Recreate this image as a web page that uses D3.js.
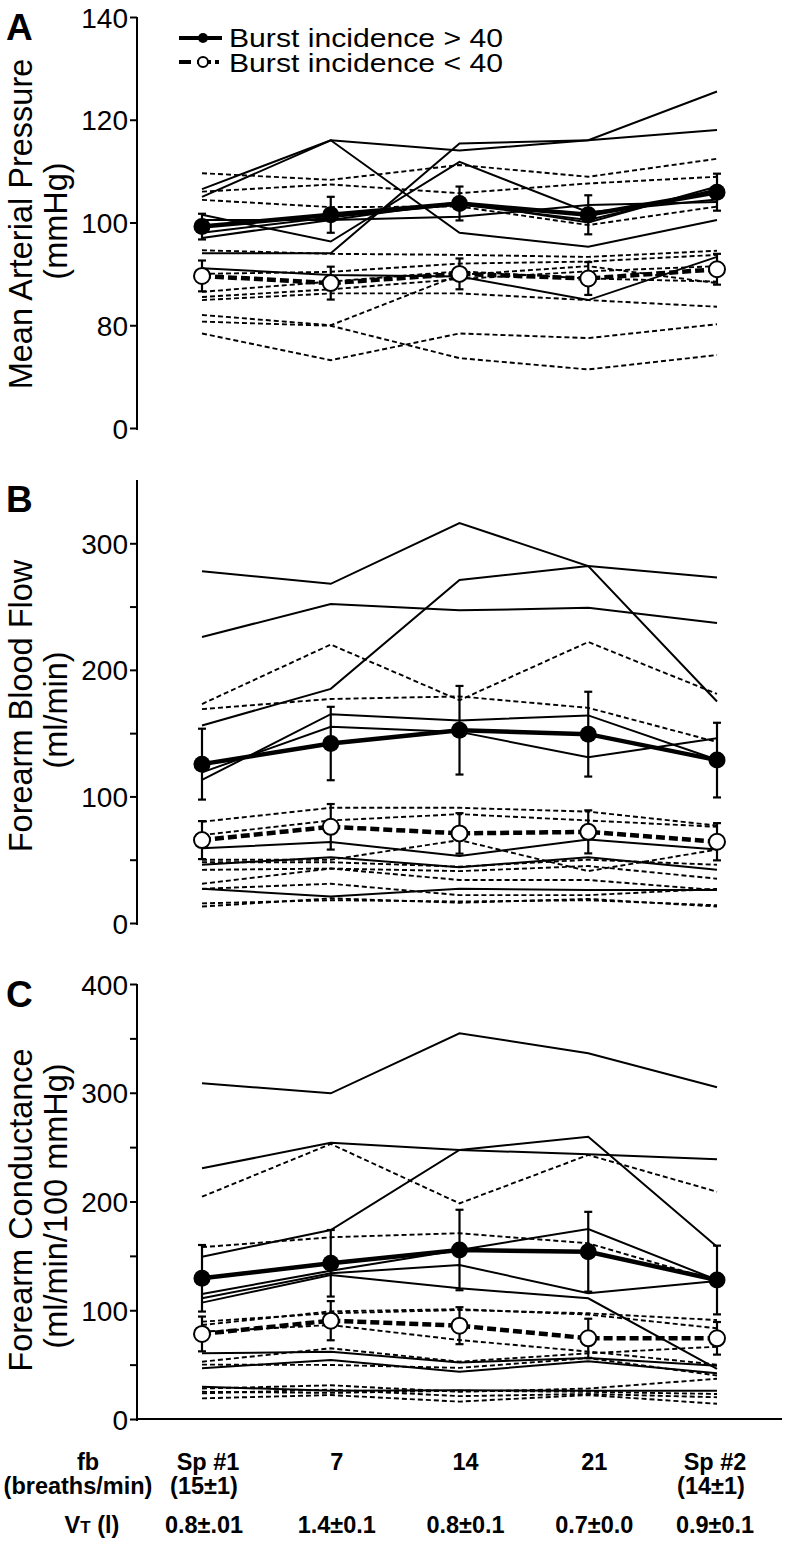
<!DOCTYPE html>
<html>
<head>
<meta charset="utf-8">
<script src="https://cdn.jsdelivr.net/npm/d3@7.9.0/dist/d3.min.js"></script>
<style>
  body { margin: 0; background: #fff; }
  svg { display: block; font-family: "Liberation Sans", Arial, sans-serif; }
</style>
</head>
<body>
<svg id="chart" width="794" height="1546"></svg>
<script>
const conditions = ['Sp #1', '7', '14', '21', 'Sp #2'];

// A: mean arterial pressure (mmHg)
const mapHigh = [
  [106.5, 116, 114, 116, 118],
  [105, 116, 98, 95.3, 100.5],
  [94, 94, 115.4, 116, 125.5],
  [101.5, 96.3, 111.8, 102, 104.5],
  [100.5, 100.5, 101.1, 103.4, 104],
  [91.1, 89.8, 89.5, 84.9, 93.3],
  [98, 101, 103.5, 100.5, 106.5],
  [97, 100.5, 104, 100, 107]
];
const mapLow = [
  [109.6, 108.3, 111.2, 108.9, 112.4],
  [106, 107.4, 105.7, 107.6, 108.9],
  [104.4, 103, 103.1, 99.5, 103.1],
  [94.6, 93.9, 93.7, 93.3, 94.5],
  [90, 90.4, 92, 92.4, 93.7],
  [86.5, 88.5, 90.5, 89.1, 88.5],
  [84.9, 86.2, 86.2, 84.9, 83.6],
  [82, 80, 89.8, 91.5, 88.2],
  [80.7, 79.9, 73.6, 71.4, 74.2],
  [78.4, 73.2, 78.4, 77.5, 80.2],
  [85.5, 87, 89, 90.5, 91.5]
];
const mapMeanHigh = [99.2, 101.5, 103.7, 101.5, 105.9];
const mapSemHigh = [2.5, 3.5, 3.3, 3.8, 3.6];
const mapMeanLow = [89.6, 88.2, 90, 89.1, 90.9];
const mapSemLow = [3, 3.2, 3, 3.2, 3];

// B: forearm blood flow (ml/min)
const fbfHigh = [
  [278, 268, 316, 282, 175],
  [226, 252, 247, 249, 237],
  [156, 185, 271, 282, 273],
  [113, 165, 160, 164, 129],
  [119, 155, 151, 131, 146],
  [59, 64, 53, 66, 58],
  [46, 52, 44, 52, 42],
  [27, 21, 27, 26, 26]
];
const fbfLow = [
  [173, 220, 176, 222, 181],
  [169, 177, 179, 170, 143],
  [80, 91, 91, 88, 77],
  [69.5, 81, 86, 81, 76],
  [50, 50, 65.5, 41, 58],
  [48, 48, 44.5, 50, 46],
  [42, 43, 41, 45, 35],
  [31, 43, 34, 34, 26],
  [27, 31, 22, 22, 27],
  [15.5, 18, 17, 18, 14],
  [13, 19.5, 16, 19, 13]
];
const fbfMeanHigh = [125.5, 141.8, 152.3, 149.2, 128.7];
const fbfSemHigh = [28, 29, 35, 33.5, 29.5];
const fbfMeanLow = [65.5, 76, 70.8, 72, 64.2];
const fbfSemLow = [15, 18, 16, 17, 14.7];

// C: forearm conductance (ml/min/100 mmHg)
const fvcHigh = [
  [308.7, 299.5, 354.7, 336.3, 305],
  [230.5, 254, 247.4, 243.4, 238.8],
  [149.2, 173.8, 247.4, 259.6, 158.4],
  [115, 136.4, 155.4, 174.7, 127.8],
  [111, 134, 141.6, 115.6, 127],
  [107, 132.4, 120.2, 111, 46],
  [60.4, 61.9, 52, 56, 49],
  [46.6, 54.3, 43.5, 53, 42],
  [29.7, 26, 26.5, 26, 26]
];
const fvcLow = [
  [204.4, 252.9, 198.3, 242.8, 209],
  [158, 167.1, 170.8, 161.6, 127],
  [89.5, 97.2, 100.2, 97.2, 91],
  [86.4, 99, 101, 96, 83.4],
  [80.3, 86.4, 72.6, 62, 50],
  [52.7, 65, 52.7, 60.4, 66.5],
  [50, 49.7, 47, 56, 40],
  [28, 31, 25, 28, 37],
  [23.6, 27, 21, 23, 20],
  [19, 22, 16, 22, 14],
  [25, 24, 26, 25, 23]
];
const fvcMeanHigh = [129.4, 143.2, 155.4, 153.8, 127.8];
const fvcSemHigh = [30.6, 30.6, 37, 36.7, 31.6];
const fvcMeanLow = [78.2, 90.4, 85.8, 74.2, 74.2];
const fvcSemLow = [16, 18, 17, 18, 15];

// x-axis text rows
const fbLabels = ['Sp #1', '7', '14', '21', 'Sp #2'];
const fbSubLabels = ['(15\u00b11)', '', '', '', '(14\u00b11)'];
const vtLabels = ['0.8\u00b1.01', '1.4\u00b10.1', '0.8\u00b10.1', '0.7\u00b10.0', '0.9\u00b10.1'];

const svg = d3.select('#chart');
const axisX = 137;
const x = d3.scalePoint().domain(conditions).range([202, 717]);

function drawPanel(p) {
  const g = svg.append('g');
  const y = p.y;

  const ax = g.append('g')
    .attr('transform', `translate(${axisX},0)`)
    .call(d3.axisLeft(y).tickValues(p.ticks).tickSize(7).tickPadding(2).tickFormat(p.fmt));
  ax.attr('font-family', null).attr('font-size', null);
  ax.select('.domain').attr('d', `M0,${y.range()[0] + 2}V${y.range()[1]}`).attr('stroke-width', 2);
  ax.selectAll('.tick line').attr('stroke-width', 2);
  ax.selectAll('.tick text').attr('font-size', 28).attr('dy', '0.36em');

  // panel letter + axis title
  g.append('text').attr('x', 6).attr('y', p.letterY)
    .attr('font-size', 37).attr('font-weight', 'bold').text(p.letter);
  p.title.forEach((t, i) => {
    const bx = i === 0 ? 32 : 67;
    g.append('text')
      .attr('transform', `translate(${bx},${p.titleY[i]}) rotate(-90)`)
      .attr('text-anchor', 'middle').attr('font-size', 32.5).text(t);
  });

  const line = d3.line().x((d, i) => x(conditions[i])).y(d => y(d));

  g.selectAll('.low').data(p.low).join('path')
    .attr('d', line).attr('fill', 'none').attr('stroke', '#000')
    .attr('stroke-width', 1.9).attr('stroke-dasharray', '5,3');
  g.selectAll('.high').data(p.high).join('path')
    .attr('d', line).attr('fill', 'none').attr('stroke', '#000')
    .attr('stroke-width', 2);

  // mean lines
  g.append('path').attr('d', line(p.meanHigh)).attr('fill', 'none')
    .attr('stroke', '#000').attr('stroke-width', 4.5);
  g.append('path').attr('d', line(p.meanLow)).attr('fill', 'none')
    .attr('stroke', '#000').attr('stroke-width', 4.5).attr('stroke-dasharray', '9,4');

  // error bars
  [[p.meanHigh, p.semHigh], [p.meanLow, p.semLow]].forEach(([m, s]) => {
    m.forEach((v, i) => {
      const cx = x(conditions[i]);
      const y1 = y(v + s[i]), y2 = y(v - s[i]);
      g.append('line').attr('x1', cx).attr('x2', cx).attr('y1', y1).attr('y2', y2)
        .attr('stroke', '#000').attr('stroke-width', 2.2);
      [y1, y2].forEach(yy => g.append('line')
        .attr('x1', cx - 4).attr('x2', cx + 4).attr('y1', yy).attr('y2', yy)
        .attr('stroke', '#000').attr('stroke-width', 2.2));
    });
  });

  g.selectAll('.mh').data(p.meanHigh).join('circle')
    .attr('cx', (d, i) => x(conditions[i])).attr('cy', d => y(d))
    .attr('r', 8.5).attr('fill', '#000');
  g.selectAll('.ml').data(p.meanLow).join('circle')
    .attr('cx', (d, i) => x(conditions[i])).attr('cy', d => y(d))
    .attr('r', 8).attr('fill', '#fff').attr('stroke', '#000').attr('stroke-width', 2);

  if (p.xAxis) {
    g.append('line').attr('x1', axisX - 1).attr('x2', 782)
      .attr('y1', y(0)).attr('y2', y(0)).attr('stroke', '#000').attr('stroke-width', 2);
  }
}

drawPanel({
  letter: 'A', letterY: 40,
  title: ['Mean Arterial Pressure', '(mmHg)'], titleY: [224, 221],
  y: d3.scaleLinear().domain([60, 140]).range([428, 17]),
  ticks: [60, 80, 100, 120, 140],
  fmt: d => d === 60 ? '0' : d,
  high: mapHigh, low: mapLow,
  meanHigh: mapMeanHigh, semHigh: mapSemHigh, meanLow: mapMeanLow, semLow: mapSemLow
});

drawPanel({
  letter: 'B', letterY: 512,
  title: ['Forearm Blood Flow', '(ml/min)'], titleY: [706, 710],
  y: d3.scaleLinear().domain([0, 350]).range([923, 480]),
  ticks: [0, 50, 100, 150, 200, 250, 300],
  fmt: d => d % 100 === 0 ? d : '',
  high: fbfHigh, low: fbfLow,
  meanHigh: fbfMeanHigh, semHigh: fbfSemHigh, meanLow: fbfMeanLow, semLow: fbfSemLow
});

drawPanel({
  letter: 'C', letterY: 1007,
  title: ['Forearm Conductance', '(ml/min/100 mmHg)'], titleY: [1210, 1206],
  y: d3.scaleLinear().domain([0, 400]).range([1419, 984]),
  ticks: d3.range(0, 401, 50),
  fmt: d => d % 100 === 0 ? d : '',
  high: fvcHigh, low: fvcLow,
  meanHigh: fvcMeanHigh, semHigh: fvcSemHigh, meanLow: fvcMeanLow, semLow: fvcSemLow,
  xAxis: true
});

// legend
const leg = svg.append('g');
leg.append('line').attr('x1', 179).attr('x2', 222).attr('y1', 38).attr('y2', 38)
  .attr('stroke', '#000').attr('stroke-width', 4);
leg.append('circle').attr('cx', 203).attr('cy', 38).attr('r', 5).attr('fill', '#000');
leg.append('line').attr('x1', 179).attr('x2', 222).attr('y1', 62).attr('y2', 62)
  .attr('stroke', '#000').attr('stroke-width', 4).attr('stroke-dasharray', '12,6,14,4,4,10');
leg.append('circle').attr('cx', 203).attr('cy', 62).attr('r', 5)
  .attr('fill', '#fff').attr('stroke', '#000').attr('stroke-width', 2);
leg.append('text').attr('x', 229).attr('y', 47).attr('font-size', 26)
  .attr('textLength', 274).attr('lengthAdjust', 'spacingAndGlyphs').text('Burst incidence > 40');
leg.append('text').attr('x', 229).attr('y', 72).attr('font-size', 26)
  .attr('textLength', 274).attr('lengthAdjust', 'spacingAndGlyphs').text('Burst incidence < 40');

// x labels
const lab = svg.append('g').attr('font-weight', 'bold').attr('font-size', 23.5).attr('text-anchor', 'middle');
lab.append('text').attr('x', 88).attr('y', 1470).text('fb');
lab.append('text').attr('x', 78).attr('y', 1494).text('(breaths/min)');
const vt = lab.append('text').attr('x', 92).attr('y', 1533);
vt.append('tspan').text('V');
vt.append('tspan').attr('font-size', 17).text('T');
vt.append('tspan').text(' (l)');
fbLabels.forEach((t, i) => {
  const cx = x(conditions[i]) + (i === 4 ? -2 : 6);
  lab.append('text').attr('x', cx).attr('y', 1470).text(t);
  if (fbSubLabels[i]) lab.append('text').attr('x', cx - 4).attr('y', 1494).text(fbSubLabels[i]);
  lab.append('text').attr('x', cx - (i === 0 ? 4 : 0)).attr('y', 1533).text(vtLabels[i]);
});
</script>
</body>
</html>
